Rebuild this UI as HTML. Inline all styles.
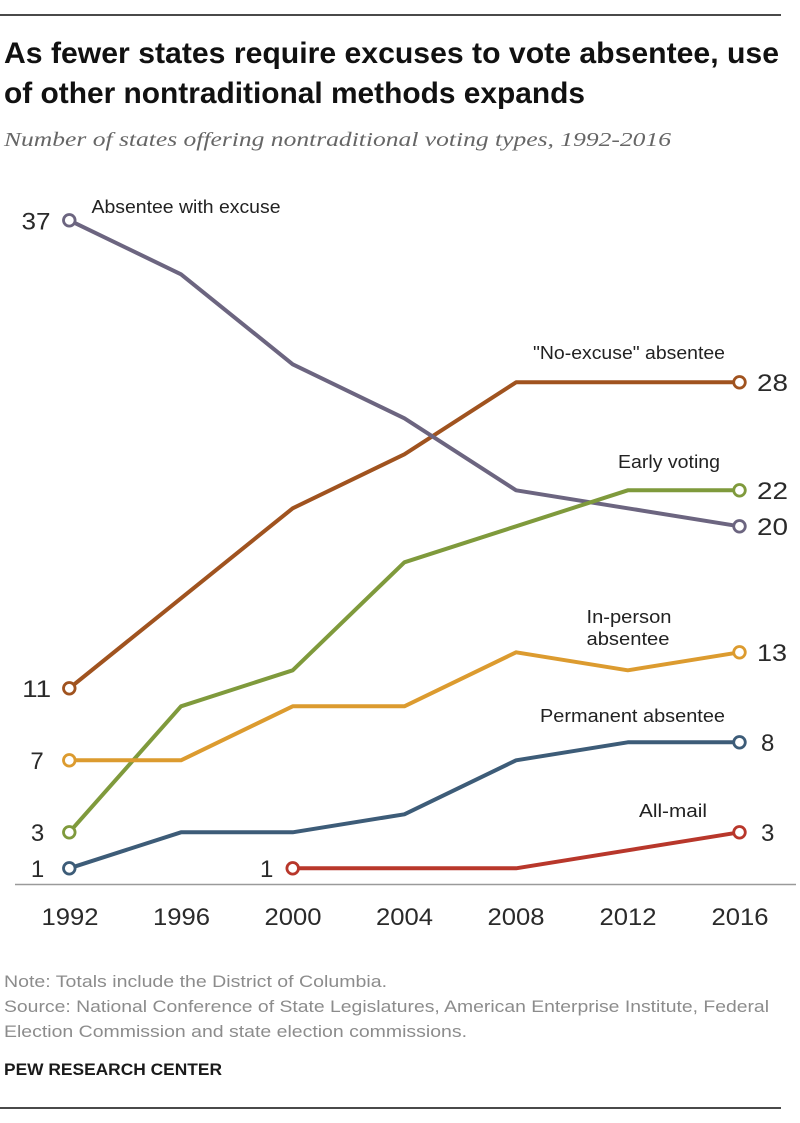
<!DOCTYPE html>
<html>
<head>
<meta charset="utf-8">
<style>
  html, body { margin: 0; padding: 0; background: #ffffff; }
  svg { display: block; }
  .num { font-family: "Liberation Sans", Arial, sans-serif; font-size: 24px; fill: #2a2a2a; }
  .lab { font-family: "Liberation Sans Narrow", "Liberation Sans", Arial, sans-serif; font-size: 18px; fill: #222; }
  .note { font-family: "Liberation Sans Narrow", "Liberation Sans", Arial, sans-serif; font-size: 17px; fill: #8c8c8c; }
</style>
</head>
<body>
<svg width="800" height="1123" viewBox="0 0 800 1123" xmlns="http://www.w3.org/2000/svg">
  <!-- top rule -->
  <line x1="0" y1="15" x2="781" y2="15" stroke="#4a4a4a" stroke-width="2"/>

  <!-- title -->
  <text x="4" y="63" font-family="'Liberation Sans Narrow','Liberation Sans',Arial,sans-serif" font-weight="bold" font-size="30" fill="#111" textLength="775" lengthAdjust="spacingAndGlyphs">As fewer states require excuses to vote absentee, use</text>
  <text x="4" y="103" font-family="'Liberation Sans Narrow','Liberation Sans',Arial,sans-serif" font-weight="bold" font-size="30" fill="#111" textLength="581" lengthAdjust="spacingAndGlyphs">of other nontraditional methods expands</text>

  <!-- subtitle -->
  <text x="4" y="146" font-family="'Liberation Serif',Georgia,serif" font-style="italic" font-size="20" fill="#666" textLength="667" lengthAdjust="spacingAndGlyphs">Number of states offering nontraditional voting types, 1992-2016</text>

  <!-- axis -->
  <line x1="15" y1="884.5" x2="796" y2="884.5" stroke="#9a9a9a" stroke-width="1.5"/>

  <!-- year labels -->
  <g class="num" text-anchor="middle" font-size="24">
    <text x="70" y="925" textLength="57" lengthAdjust="spacingAndGlyphs">1992</text>
    <text x="181.5" y="925" textLength="57" lengthAdjust="spacingAndGlyphs">1996</text>
    <text x="293" y="925" textLength="57" lengthAdjust="spacingAndGlyphs">2000</text>
    <text x="404.5" y="925" textLength="57" lengthAdjust="spacingAndGlyphs">2004</text>
    <text x="516" y="925" textLength="57" lengthAdjust="spacingAndGlyphs">2008</text>
    <text x="628" y="925" textLength="57" lengthAdjust="spacingAndGlyphs">2012</text>
    <text x="740" y="925" textLength="57" lengthAdjust="spacingAndGlyphs">2016</text>
  </g>

  <!-- series lines -->
  <g fill="none" stroke-width="4" stroke-linejoin="round" stroke-linecap="round">
    <!-- No-excuse absentee -->
    <polyline stroke="#a0531f" points="69.3,688.3 181,598.3 292.7,508.3 404.4,454.3 516.1,382.3 627.8,382.3 739.5,382.3"/>
    <!-- Absentee with excuse -->
    <polyline stroke="#6c6580" points="69.3,220.3 181,274.3 292.7,364.3 404.4,418.3 516.1,490.3 627.8,508.3 739.5,526.3"/>
    <!-- Early voting -->
    <polyline stroke="#7f9a3c" points="69.3,832.3 181,706.3 292.7,670.3 404.4,562.3 516.1,526.3 627.8,490.3 739.5,490.3"/>
    <!-- In-person absentee -->
    <polyline stroke="#dc9b2f" points="69.3,760.3 181,760.3 292.7,706.3 404.4,706.3 516.1,652.3 627.8,670.3 739.5,652.3"/>
    <!-- Permanent absentee -->
    <polyline stroke="#3d5c78" points="69.3,868.3 181,832.3 292.7,832.3 404.4,814.3 516.1,760.3 627.8,742.3 739.5,742.3"/>
    <!-- All-mail -->
    <polyline stroke="#b8372b" points="292.7,868.3 404.4,868.3 516.1,868.3 627.8,850.3 739.5,832.3"/>
  </g>

  <!-- markers -->
  <g fill="#fff" stroke-width="2.8">
    <circle cx="69.3" cy="220.3" r="5.8" stroke="#6c6580"/>
    <circle cx="739.5" cy="526.3" r="5.8" stroke="#6c6580"/>
    <circle cx="69.3" cy="688.3" r="5.8" stroke="#a0531f"/>
    <circle cx="739.5" cy="382.3" r="5.8" stroke="#a0531f"/>
    <circle cx="69.3" cy="832.3" r="5.8" stroke="#7f9a3c"/>
    <circle cx="739.5" cy="490.3" r="5.8" stroke="#7f9a3c"/>
    <circle cx="69.3" cy="760.3" r="5.8" stroke="#dc9b2f"/>
    <circle cx="739.5" cy="652.3" r="5.8" stroke="#dc9b2f"/>
    <circle cx="69.3" cy="868.3" r="5.8" stroke="#3d5c78"/>
    <circle cx="739.5" cy="742.3" r="5.8" stroke="#3d5c78"/>
    <circle cx="292.7" cy="868.3" r="5.8" stroke="#b8372b"/>
    <circle cx="739.5" cy="832.3" r="5.8" stroke="#b8372b"/>
  </g>

  <!-- left value labels -->
  <g class="num" text-anchor="middle">
    <text x="36" y="229.5" textLength="29" lengthAdjust="spacingAndGlyphs">37</text>
    <text x="36.7" y="697" textLength="29" lengthAdjust="spacingAndGlyphs">11</text>
    <text x="37" y="769">7</text>
    <text x="37.5" y="841">3</text>
    <text x="37.5" y="877">1</text>
    <text x="266.7" y="877">1</text>
  </g>

  <!-- right value labels -->
  <g class="num">
    <text x="757" y="391" textLength="31" lengthAdjust="spacingAndGlyphs">28</text>
    <text x="757" y="499" textLength="31" lengthAdjust="spacingAndGlyphs">22</text>
    <text x="757" y="535" textLength="31" lengthAdjust="spacingAndGlyphs">20</text>
    <text x="757" y="661" textLength="30" lengthAdjust="spacingAndGlyphs">13</text>
    <text x="761" y="751">8</text>
    <text x="761" y="841">3</text>
  </g>

  <!-- series labels -->
  <g class="lab">
    <text x="91.5" y="213" textLength="189" lengthAdjust="spacingAndGlyphs">Absentee with excuse</text>
    <text x="533" y="359" textLength="192" lengthAdjust="spacingAndGlyphs">"No-excuse" absentee</text>
    <text x="618" y="468" textLength="102" lengthAdjust="spacingAndGlyphs">Early voting</text>
    <text x="586.5" y="623" textLength="85" lengthAdjust="spacingAndGlyphs">In-person</text>
    <text x="586.5" y="645" textLength="83" lengthAdjust="spacingAndGlyphs">absentee</text>
    <text x="540" y="722" textLength="185" lengthAdjust="spacingAndGlyphs">Permanent absentee</text>
    <text x="639" y="817" textLength="68" lengthAdjust="spacingAndGlyphs">All-mail</text>
  </g>

  <!-- notes -->
  <g class="note">
    <text x="4" y="987" textLength="383" lengthAdjust="spacingAndGlyphs">Note: Totals include the District of Columbia.</text>
    <text x="4" y="1012" textLength="765" lengthAdjust="spacingAndGlyphs">Source: National Conference of State Legislatures, American Enterprise Institute, Federal</text>
    <text x="4" y="1037" textLength="463" lengthAdjust="spacingAndGlyphs">Election Commission and state election commissions.</text>
  </g>
  <text x="4" y="1075" font-family="'Liberation Sans Narrow','Liberation Sans',Arial,sans-serif" font-weight="bold" font-size="17" fill="#1a1a1a" textLength="218" lengthAdjust="spacingAndGlyphs">PEW RESEARCH CENTER</text>

  <!-- bottom rule -->
  <line x1="0" y1="1108" x2="781" y2="1108" stroke="#4a4a4a" stroke-width="2"/>
</svg>
</body>
</html>
